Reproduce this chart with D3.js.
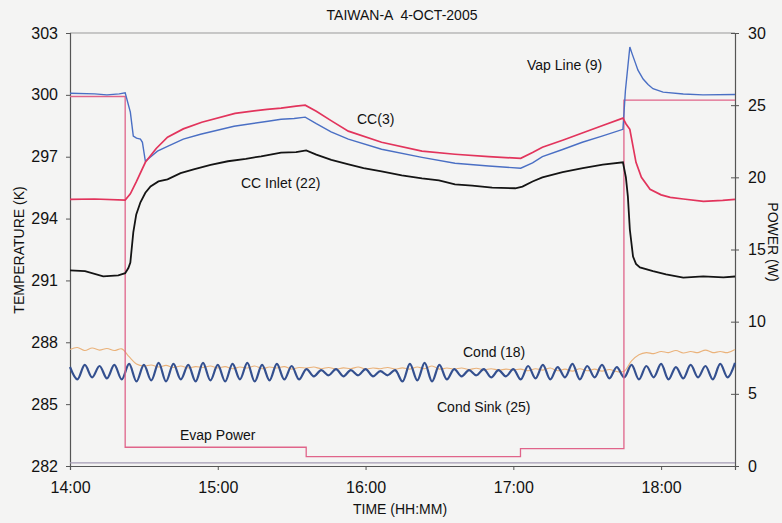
<!DOCTYPE html>
<html lang="en">
<head>
    <meta charset="UTF-8">
    <title>TAIWAN-A</title>
    <style>
        body { margin: 0; background: #f4f4f3; }
        svg { font-family: "Liberation Sans", Arial, sans-serif; }
    </style>
</head>
<body>
<script src="https://d3js.org/d3.v7.min.js"></script>
<script>
    let w = 782, h = 523;
    let inner = {top: 33, right: 47, bottom: 57, left: 70};

    // times are minutes after 14:00
    const tempTicks = [282, 285, 288, 291, 294, 297, 300, 303];
    const powerTicks = [0, 5, 10, 15, 20, 25, 30];
    const hourTicks = ["14:00", "15:00", "16:00", "17:00", "18:00"];

    const vapT = [0, 10, 15, 20, 22.4, 24.5, 25.7, 27, 28.6, 29.4, 30.6, 35.5, 39.6, 46, 53, 66.6, 80.4, 85.7, 91, 95.5,
        100, 106, 113, 126.5, 142.9, 156.3, 170, 183, 187.8, 191.8, 200, 208, 216, 224.5, 225.5, 227.3, 228.2, 229.4,
        230.6, 232.7, 234.7, 236.7, 240.8, 249, 257, 270];
    const vapK = [300.08, 300.05, 300.0, 300.05, 300.1, 299.16, 298.0, 297.9, 297.85, 297.7, 296.78, 297.27, 297.5, 297.85,
        298.09, 298.48, 298.72, 298.82, 298.85, 298.92, 298.6, 298.2, 297.85, 297.36, 296.97, 296.68, 296.55, 296.44,
        296.7, 297.0, 297.35, 297.7, 298.0, 298.33, 300.2, 302.32, 302.0, 301.6, 301.2, 300.77, 300.5, 300.3, 300.13,
        300.04, 300.0, 300.02];

    const ccT = [0, 10, 22.4, 24.5, 27, 30.6, 35, 39.6, 46, 53.5, 67, 80, 85.7, 91.8, 95.5, 100, 106, 113, 126.5, 142.9,
        156.3, 170, 183, 187.8, 191.8, 200, 208, 216, 224.5, 225.7, 227.3, 229.8, 232, 235.5, 240, 243.7, 249, 257.2,
        265, 270];
    const ccK = [294.93, 294.95, 294.9, 295.2, 295.8, 296.73, 297.4, 297.95, 298.35, 298.67, 299.1, 299.3, 299.36, 299.45,
        299.5, 299.2, 298.75, 298.24, 297.7, 297.27, 297.12, 297.0, 296.92, 297.2, 297.46, 297.8, 298.15, 298.5,
        298.87, 298.6, 298.33, 296.73, 296.0, 295.42, 295.15, 295.03, 294.95, 294.83, 294.88, 294.93];

    const inletT = [0, 6.1, 13.5, 19.6, 22.4, 23.7, 24.5, 25.7, 26.9, 28.6, 30.6, 32.7, 35.9, 39.6, 44.9, 50.2, 57.1, 64.1,
        71.4, 77.6, 85.7, 91.8, 95.9, 100, 106.1, 113.1, 119.2, 126.5, 134.7, 142.9, 149.8, 156.3, 163.3, 171.4, 180.8,
        183.7, 187.8, 191.8, 200, 208.2, 216.3, 224.5, 225.7, 226.5, 227.3, 228.6, 229.8, 231.4, 236.7, 242, 249,
        257.1, 265.3, 270];
    const inletK = [291.49, 291.45, 291.2, 291.25, 291.35, 291.6, 291.87, 293.33, 294.2, 294.79, 295.25, 295.56, 295.8,
        295.9, 296.2, 296.39, 296.6, 296.78, 296.9, 297.02, 297.2, 297.22, 297.31, 297.1, 296.85, 296.63, 296.45,
        296.29, 296.1, 295.95, 295.85, 295.66, 295.6, 295.5, 295.47, 295.55, 295.8, 296.0, 296.25, 296.45, 296.62,
        296.73, 296.0, 295.08, 293.47, 292.16, 291.8, 291.63, 291.45, 291.29, 291.14, 291.2, 291.15, 291.19];

    // Cond and Cond Sink sampled every 3 minutes
    const condK = [287.65, 287.75, 287.6, 287.72, 287.62, 287.7, 287.6, 287.68,
        287.3, 286.95, 286.85, 286.9, 286.8, 286.88, 286.78, 286.85, 286.75, 286.82, 286.78, 286.85, 286.75,
        286.82, 286.72, 286.8, 286.75, 286.85, 286.72, 286.8, 286.75, 286.82, 286.7, 286.78,
        286.75, 286.8, 286.72, 286.78, 286.7, 286.76, 286.72, 286.8, 286.7, 286.75, 286.72, 286.78, 286.7,
        286.76, 286.7, 286.8, 286.72, 286.85, 286.7, 286.75,
        286.7, 286.75, 286.68, 286.74, 286.66, 286.72, 286.65, 286.7, 286.66,
        286.7, 286.62, 286.72, 286.65, 286.75, 286.62, 286.7, 286.6, 286.72, 286.62, 286.7, 286.6, 286.68, 286.58,
        286.6, 287.1, 287.4, 287.5, 287.45, 287.55, 287.5, 287.6, 287.48, 287.55, 287.5, 287.62, 287.5, 287.55, 287.5, 287.65];
    const sinkK = [286.8, 286.2, 286.9, 286.3, 286.85, 286.25, 286.9, 286.2,
        286.95, 286.1, 286.9, 286.15, 287.0, 286.1, 286.95, 286.2, 286.9, 286.1, 287.0, 286.15, 286.9,
        286.1, 286.95, 286.2, 287.0, 286.1, 286.9, 286.15, 286.95, 286.2, 286.85, 286.2,
        286.7, 286.35, 286.65, 286.4, 286.7, 286.35, 286.65, 286.4, 286.7, 286.35, 286.6, 286.4, 286.65,
        286.1, 286.95, 286.15, 287.0, 286.1, 286.9, 286.2,
        286.7, 286.35, 286.65, 286.4, 286.7, 286.3, 286.65, 286.35, 286.7,
        286.2, 286.85, 286.25, 286.9, 286.2, 286.8, 286.3, 286.95, 286.2, 286.85, 286.3, 286.9, 286.25, 286.8,
        286.3, 286.9, 286.2, 286.85, 286.3, 286.95, 286.2, 286.8, 286.25, 286.9, 286.3, 286.85, 286.2, 286.95, 286.3, 287.0];
    const sampleStep = 3;

    const baseT = [0, 270];
    const baseK = [282.15, 282.15];

    // Evap Power (W) on the right axis, step changes
    const powerT = [0, 22.4, 95.9, 182.9, 224.9, 270];
    const powerW = [25.6, 1.3, 0.65, 1.2, 25.35, 25.35];

    let day = new Date(2005, 9, 4, 14, 0);
    let toDate = m => new Date(day.getTime() + m * 60000);

    let x = d3.scaleTime()
        .domain([toDate(0), toDate(270)])
        .range([inner.left, w - inner.right]);
    let yT = d3.scaleLinear().domain([282, 303]).range([h - inner.bottom, inner.top]);
    let yP = d3.scaleLinear().domain([0, 30]).range([h - inner.bottom, inner.top]);

    let svg = d3.select("body").append("svg")
        .attr("width", w)
        .attr("height", h);

    // title
    svg.append("text")
        .attr("x", 402).attr("y", 20)
        .attr("text-anchor", "middle")
        .style("font-size", "14px")
        .style("white-space", "pre")
        .attr("fill", "#111")
        .text("TAIWAN-A  4-OCT-2005");

    // frame top
    svg.append("line")
        .attr("x1", inner.left).attr("x2", w - inner.right)
        .attr("y1", inner.top).attr("y2", inner.top)
        .attr("stroke", "#999").attr("stroke-width", 1);

    let axL = svg.append("g")
        .attr("transform", "translate(" + inner.left + ",0)")
        .call(d3.axisLeft(yT).tickValues(tempTicks).tickSize(4).tickPadding(8));
    let axR = svg.append("g")
        .attr("transform", "translate(" + (w - inner.right) + ",0)")
        .call(d3.axisRight(yP).tickValues(powerTicks).tickSize(4).tickPadding(9));
    axR.selectAll(".tick line").attr("x1", -4);
    let axB = svg.append("g")
        .attr("transform", "translate(0," + (h - inner.bottom) + ")")
        .call(d3.axisBottom(x)
            .tickValues(hourTicks.map((s, i) => toDate(i * 60)))
            .tickFormat((d, i) => hourTicks[i])
            .tickSize(4).tickPadding(12));

    [axL, axR, axB].forEach(function (a) {
        a.select(".domain").attr("stroke", "#555").attr("stroke-width", 1.2);
        a.selectAll(".tick line").attr("stroke", "#555");
        a.selectAll(".tick text")
            .style("font-size", "16px")
            .style("font-family", "'Liberation Sans', Arial, sans-serif")
            .attr("fill", "#111");
    });

    // axis titles
    svg.append("text")
        .attr("x", 400).attr("y", 514)
        .attr("text-anchor", "middle")
        .style("font-size", "14px").attr("fill", "#111")
        .text("TIME (HH:MM)");
    svg.append("text")
        .attr("transform", "translate(24,250) rotate(-90)")
        .attr("text-anchor", "middle")
        .style("font-size", "14px").attr("fill", "#111")
        .text("TEMPERATURE (K)");
    svg.append("text")
        .attr("transform", "translate(768,242) rotate(90)")
        .attr("text-anchor", "middle")
        .style("font-size", "14px").attr("fill", "#111")
        .text("POWER (W)");

    function pairs(ts, vs) {
        return ts.map((t, i) => [t, vs[i]]);
    }

    let lineT = d3.line()
        .x(d => x(toDate(d[0])))
        .y(d => yT(d[1]));
    let smoothT = d3.line()
        .x(d => x(toDate(d[0])))
        .y(d => yT(d[1]))
        .curve(d3.curveCatmullRom);
    let lineP = d3.line()
        .x(d => x(toDate(d[0])))
        .y(d => yP(d[1]))
        .curve(d3.curveStepAfter);

    let plot = svg.append("g");

    plot.append("path")
        .attr("d", lineT(pairs(baseT, baseK)))
        .attr("fill", "none").attr("stroke", "#a59cb4").attr("stroke-width", 1.2);

    plot.append("path")
        .attr("d", smoothT(condK.map((v, i) => [i * sampleStep, v])))
        .attr("fill", "none").attr("stroke", "#eab27a").attr("stroke-width", 1.1);

    plot.append("path")
        .attr("d", smoothT(sinkK.map((v, i) => [i * sampleStep, v])))
        .attr("fill", "none").attr("stroke", "#34508f").attr("stroke-width", 2.2);

    plot.append("path")
        .attr("d", lineP(pairs(powerT, powerW)))
        .attr("fill", "none").attr("stroke", "#e0648a").attr("stroke-width", 1.3);

    plot.append("path")
        .attr("d", lineT(pairs(inletT, inletK)))
        .attr("fill", "none").attr("stroke", "#141414").attr("stroke-width", 1.8);

    plot.append("path")
        .attr("d", lineT(pairs(vapT, vapK)))
        .attr("fill", "none").attr("stroke", "#4a6fc4").attr("stroke-width", 1.4);

    plot.append("path")
        .attr("d", lineT(pairs(ccT, ccK)))
        .attr("fill", "none").attr("stroke", "#e2345c").attr("stroke-width", 1.7);

    // series labels
    const labels = [
        {t: "Vap Line (9)", x: 527, y: 70},
        {t: "CC(3)", x: 357, y: 124},
        {t: "CC Inlet (22)", x: 241, y: 188},
        {t: "Cond (18)", x: 463, y: 357},
        {t: "Cond Sink (25)", x: 437, y: 412},
        {t: "Evap Power", x: 180, y: 440}
    ];
    svg.selectAll(".lbl")
        .data(labels)
        .enter()
        .append("text")
        .attr("class", "lbl")
        .attr("x", d => d.x).attr("y", d => d.y)
        .style("font-size", "14px").attr("fill", "#111")
        .text(d => d.t);
</script>
</body>
</html>
